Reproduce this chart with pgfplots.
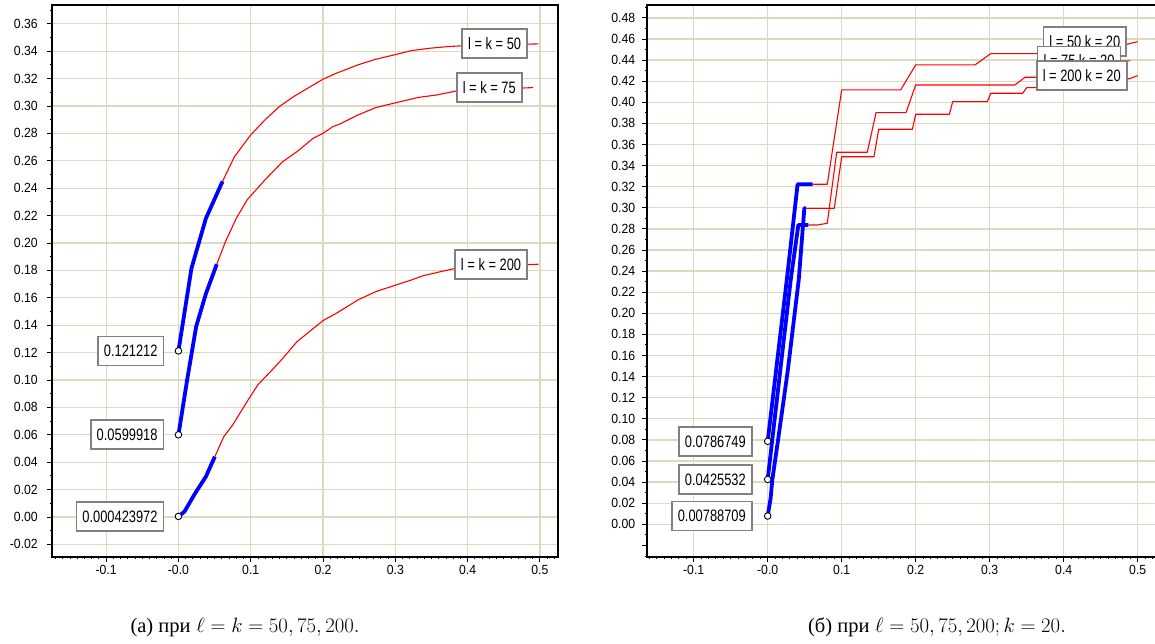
\documentclass[border=0pt]{standalone}
\usepackage{pgfplots}
\pgfplotsset{compat=1.18}
\usepackage{fontspec}
\setmainfont{Liberation Sans}
\newfontfamily\tickfont[FakeStretch=0.92]{Liberation Sans}
\newfontfamily\boxfont[FakeStretch=0.78]{Liberation Sans}
\newfontfamily\cyrserif{Liberation Serif}

\definecolor{gridc}{RGB}{218,218,190}
\definecolor{boxc}{RGB}{128,128,128}

\tikzset{
  valbox/.style={draw=boxc, line width=1.8pt, fill=white, inner xsep=6pt, inner ysep=0pt,
    minimum height=29pt, text height=11.8pt, text depth=0pt,
    font=\boxfont\fontsize{16.5}{18}\selectfont},
}

\pgfplotsset{
  panel/.style={
    scale only axis,
    clip=false,
    axis line style={line width=2pt, black},
    grid=major,
    major grid style={gridc, line width=1.3pt},
    tick align=outside,
    tick pos=left,
    major tick length=5pt,
    minor tick length=2pt,
    tick style={black, line width=0.9pt},
    xtick={-0.1,0,0.1,0.2,0.3,0.4,0.5},
    xticklabels={-0.1,-0.0,0.1,0.2,0.3,0.4,0.5},
    ticklabel style={font=\tickfont\fontsize{13.3}{15}\selectfont},
    /pgf/number format/assume math mode=true,
  },
  redline/.style={red, line width=1.1pt, line join=round},
  blueline/.style={blue, line width=3.8pt, line join=round},
  startmark/.style={only marks, mark=*, mark size=3.3pt,
    mark options={fill=white, draw=black, line width=0.9pt}},
}

\begin{document}
\begin{tikzpicture}
\useasboundingbox (0pt,0pt) rectangle (1155pt,644pt);
\clip (0pt,0pt) rectangle (1155pt,644pt);

% ---------- left panel: l = k = 50, 75, 200 ----------
\begin{axis}[panel,
  at={(52.3pt,87.3pt)}, anchor=south west,
  width=505.7pt, height=551.7pt,
  xmin=-0.1745, xmax=0.525, ymin=-0.029, ymax=0.3737,
  minor xtick={-0.17,-0.16,...,0.52},
  ytick={-0.02,0,0.02,0.04,0.06,0.08,0.10,0.12,0.14,0.16,0.18,0.20,0.22,0.24,0.26,0.28,0.30,0.32,0.34,0.36},
  yticklabels={-0.02,0.00,0.02,0.04,0.06,0.08,0.10,0.12,0.14,0.16,0.18,0.20,0.22,0.24,0.26,0.28,0.30,0.32,0.34,0.36},
  minor ytick={-0.01,0.01,0.03,0.05,0.07,0.09,0.11,0.13,0.15,0.17,0.19,0.21,0.23,0.25,0.27,0.29,0.31,0.33,0.35,0.37},
  yticklabel style={xshift=-6pt},
]
% l = k = 50
\addplot[redline] coordinates {
  (0.061,0.245) (0.0775,0.263) (0.0998,0.2788) (0.1196,0.2898) (0.1394,0.2995)
  (0.1592,0.3068) (0.179,0.313) (0.1998,0.3195) (0.2185,0.3239) (0.2483,0.330)
  (0.273,0.3341) (0.2978,0.3372) (0.3224,0.3404) (0.3472,0.3421) (0.372,0.3433)
  (0.395,0.3440) (0.498,0.3453)};
% l = k = 75
\addplot[redline] coordinates {
  (0.053,0.1845) (0.0651,0.201) (0.080,0.218) (0.0949,0.2314) (0.1196,0.246)
  (0.1443,0.2594) (0.1641,0.2667) (0.1863,0.2764) (0.1998,0.280) (0.2136,0.2849)
  (0.2235,0.2869) (0.2483,0.2934) (0.273,0.2988) (0.2978,0.302) (0.3324,0.3063)
  (0.357,0.308) (0.3868,0.3112) (0.4906,0.3134)};
% l = k = 200
\addplot[redline] coordinates {
  (0.0503,0.044) (0.0627,0.0586) (0.0751,0.0672) (0.0949,0.0842) (0.1097,0.0964)
  (0.1295,0.1073) (0.1443,0.1158) (0.1641,0.128) (0.184,0.1365) (0.1998,0.1433)
  (0.2185,0.1487) (0.2483,0.1584) (0.273,0.1645) (0.2978,0.1688) (0.3224,0.173)
  (0.3373,0.1759) (0.362,0.179) (0.384,0.1815) (0.44,0.1832) (0.498,0.1845)};
% initial segments
\addplot[blueline] coordinates {(0,0.121212) (0.018,0.1815) (0.038,0.218) (0.061,0.245)};
\addplot[blueline] coordinates {(0,0.0599918) (0.012,0.100) (0.0245,0.139) (0.038,0.163) (0.053,0.1845)};
\addplot[blueline] coordinates {(0,0.000423972) (0.0083,0.0039) (0.0231,0.0173) (0.0379,0.0294) (0.0503,0.044)};
% starting values
\addplot[startmark] coordinates {(0,0.121212) (0,0.0599918) (0,0.000423972)};
\node[valbox, anchor=east, xshift=-14pt] at (axis cs:0,0.121212) {0.121212};
\node[valbox, anchor=east, xshift=-14pt] at (axis cs:0,0.0599918) {0.0599918};
\node[valbox, anchor=east, xshift=-14pt] at (axis cs:0,0.000423972) {0.000423972};
% curve names
\node[valbox, anchor=east, xshift=-10.5pt] at (axis cs:0.498,0.3453) {l = k = 50};
\node[valbox, anchor=east, xshift=-10.5pt] at (axis cs:0.4906,0.3134) {l = k = 75};
\node[valbox, anchor=east, xshift=-10.5pt] at (axis cs:0.498,0.1845) {l = k = 200};
\end{axis}

% ---------- right panel: l = 50, 75, 200; k = 20 ----------
\begin{axis}[panel,
  at={(646.7pt,87.3pt)}, anchor=south west,
  width=513.2pt, height=551.7pt,
  xmin=-0.1635, xmax=0.53, ymin=-0.0307, ymax=0.4922,
  minor xtick={-0.16,-0.15,...,0.53},
  ytick={0,0.02,0.04,0.06,0.08,0.10,0.12,0.14,0.16,0.18,0.20,0.22,0.24,0.26,0.28,0.30,0.32,0.34,0.36,0.38,0.40,0.42,0.44,0.46,0.48},
  yticklabels={0.00,0.02,0.04,0.06,0.08,0.10,0.12,0.14,0.16,0.18,0.20,0.22,0.24,0.26,0.28,0.30,0.32,0.34,0.36,0.38,0.40,0.42,0.44,0.46,0.48},
  extra y ticks={-0.02}, extra y tick labels={}, extra tick style={grid=none},
  minor ytick={-0.03,-0.01,0.01,0.03,0.05,0.07,0.09,0.11,0.13,0.15,0.17,0.19,0.21,0.23,0.25,0.27,0.29,0.31,0.33,0.35,0.37,0.39,0.41,0.43,0.45,0.47,0.49},
  yticklabel style={xshift=-3pt},
]
% l = 50, k = 20
\addplot[redline] coordinates {
  (0.0608,0.3223) (0.0805,0.3223) (0.1000,0.4117) (0.1797,0.4117) (0.2000,0.4354)
  (0.2801,0.4354) (0.3014,0.4461) (0.38,0.4461) (0.40,0.454) (0.482,0.4543) (0.50,0.4575)};
% l = 75, k = 20
\addplot[redline] coordinates {
  (0.0549,0.2837) (0.067,0.2837) (0.0805,0.2853) (0.0932,0.3526) (0.1346,0.3526)
  (0.1464,0.3902) (0.1869,0.3902) (0.2,0.4164) (0.3342,0.4164) (0.3477,0.4237)
  (0.40,0.4237) (0.42,0.4392) (0.49,0.4392)};
% l = 200, k = 20
\addplot[redline] coordinates {
  (0.052,0.2995) (0.090,0.2995) (0.1,0.3484) (0.1436,0.3484) (0.150,0.3744)
  (0.1955,0.3744) (0.2,0.3886) (0.2455,0.3886) (0.25,0.4006) (0.2968,0.4006)
  (0.3014,0.4085) (0.3446,0.4085) (0.35,0.4139) (0.45,0.4139) (0.46,0.4223)
  (0.489,0.4223) (0.5,0.4253)};
% initial segments
\addplot[blueline] coordinates {(0,0.0786749) (0.0258,0.2317) (0.0404,0.3223) (0.0608,0.3223)};
\addplot[blueline] coordinates {(0,0.0425532) (0.0311,0.2317) (0.0414,0.2837) (0.0549,0.2837)};
\addplot[blueline] coordinates {(0,0.00788709) (0.004,0.025) (0.0062,0.042) (0.014,0.08)
  (0.027,0.145) (0.042,0.232) (0.0495,0.2995) (0.052,0.2995)};
% starting values
\addplot[startmark] coordinates {(0,0.0786749) (0,0.0425532) (0,0.00788709)};
\node[valbox, anchor=east, xshift=-15pt] at (axis cs:0,0.0786749) {0.0786749};
\node[valbox, anchor=east, xshift=-15pt] at (axis cs:0,0.0425532) {0.0425532};
\node[valbox, anchor=east, xshift=-15pt] at (axis cs:0,0.00788709) {0.00788709};
% curve names
\node[valbox, anchor=east, xshift=-10.5pt] at (axis cs:0.5,0.4575) {l = 50 k = 20};
\node[valbox, anchor=east, xshift=-9pt] at (axis cs:0.49,0.4392) {l = 75 k = 20};
\node[valbox, anchor=east, xshift=-10pt] at (axis cs:0.5,0.4253) {l = 200 k = 20};
\end{axis}

% captions
\node[font=\fontsize{20.5}{24}\selectfont] at (245pt,17pt)
  {{\cyrserif (а) при} $\ell = k = 50, 75, 200.$};
\node[font=\fontsize{20.5}{24}\selectfont] at (937pt,17pt)
  {{\cyrserif (б) при} $\ell = 50, 75, 200; k = 20.$};
\end{tikzpicture}
\end{document}
